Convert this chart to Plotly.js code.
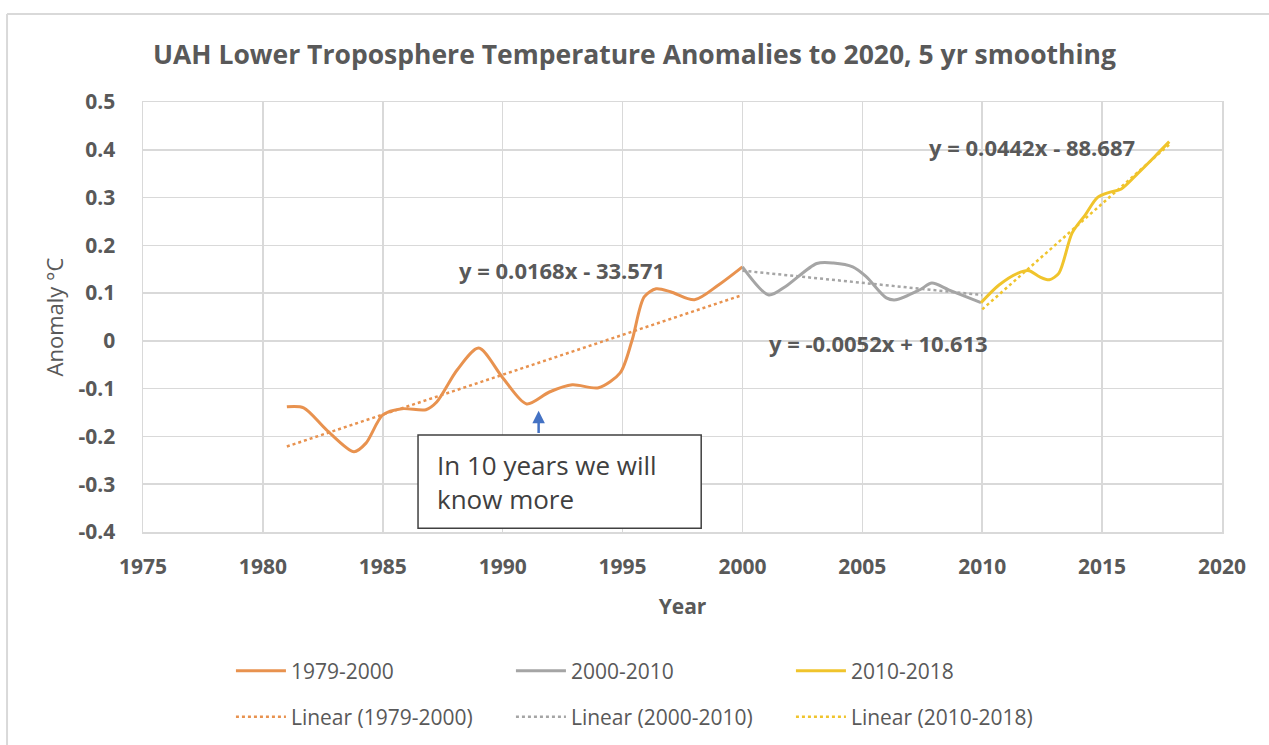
<!DOCTYPE html>
<html>
<head>
<meta charset="utf-8">
<script src="https://cdn.plot.ly/plotly-3.0.1.min.js"></script>
<style>
html,body{margin:0;padding:0;background:#fff;}
#chart{width:1269px;height:745px;}
</style>
</head>
<body>
<div id="chart"></div>
<script>
// ---- data ----
const yearsA = [1981.0, 1981.7, 1982.65, 1983.8, 1984.3, 1985.0, 1985.8, 1986.8, 1987.25, 1988.1, 1989.0, 1990.0, 1991.0, 1991.95, 1992.9, 1994.0, 1994.9, 1995.4, 1995.9, 1996.4, 1997.0, 1998.0, 1999.0, 2000.0];
const anomA  = [-0.138, -0.140, -0.186, -0.232, -0.214, -0.155, -0.142, -0.144, -0.128, -0.061, -0.015, -0.077, -0.132, -0.107, -0.092, -0.098, -0.067, 0.002, 0.092, 0.109, 0.103, 0.086, 0.117, 0.155];

const yearsB = [2000.0, 2001.1, 2001.8, 2003.1, 2003.8, 2004.6, 2005.15, 2006.0, 2006.4, 2007.4, 2007.9, 2008.6, 2009.95];
const anomB  = [0.155, 0.096, 0.114, 0.162, 0.163, 0.155, 0.135, 0.090, 0.086, 0.107, 0.121, 0.107, 0.080];

const yearsC = [2009.95, 2010.7, 2011.5, 2011.95, 2012.4, 2012.8, 2013.2, 2013.75, 2014.3, 2014.8, 2015.3, 2015.8, 2016.5, 2017.2, 2017.8];
const anomC  = [0.080, 0.117, 0.142, 0.147, 0.134, 0.128, 0.142, 0.226, 0.264, 0.300, 0.311, 0.318, 0.351, 0.386, 0.417];

// trend line end points (as drawn)
const trendAx = [1981.0, 2000.0], trendAy = [-0.221, 0.096];
const trendBx = [2000.0, 2010.0], trendBy = [0.147, 0.096];
const trendCx = [2010.0, 2017.8], trendCy = [0.066, 0.411];

const seriesNames = ["1979-2000", "2000-2010", "2010-2018"];
const trendNames = ["Linear (1979-2000)", "Linear (2000-2010)", "Linear (2010-2018)"];
const equations = ["y = 0.0168x - 33.571", "y = -0.0052x + 10.613", "y = 0.0442x - 88.687"];

const xTickVals = [1975, 1980, 1985, 1990, 1995, 2000, 2005, 2010, 2015, 2020];
const xTickText = ["1975", "1980", "1985", "1990", "1995", "2000", "2005", "2010", "2015", "2020"];
const yTickVals = [0.5, 0.4, 0.3, 0.2, 0.1, 0, -0.1, -0.2, -0.3, -0.4];
const yTickText = ["0.5", "0.4", "0.3", "0.2", "0.1", "0", "-0.1", "-0.2", "-0.3", "-0.4"];

const titleText = "UAH Lower Troposphere Temperature Anomalies to 2020, 5 yr smoothing";
const noteText = "In 10 years we will<br>know more";

// ---- styling ----
const cOrange = "#E8924F", cGray = "#A5A5A5", cGold = "#F0C42C";
const txt = "#595959";
const FONT = "Open Sans, Liberation Sans, sans-serif";

const traces = [
  {x: yearsA, y: anomA, name: seriesNames[0], mode: "lines", line: {color: cOrange, width: 3, shape: "spline", smoothing: 0.8}, legend: "legend"},
  {x: yearsB, y: anomB, name: seriesNames[1], mode: "lines", line: {color: cGray, width: 3, shape: "spline", smoothing: 0.8}, legend: "legend"},
  {x: yearsC, y: anomC, name: seriesNames[2], mode: "lines", line: {color: cGold, width: 3, shape: "spline", smoothing: 0.8}, legend: "legend"},
  {x: trendAx, y: trendAy, name: trendNames[0], mode: "lines", line: {color: cOrange, width: 2.5, dash: "dot"}, legend: "legend2"},
  {x: trendBx, y: trendBy, name: trendNames[1], mode: "lines", line: {color: cGray, width: 2.5, dash: "dot"}, legend: "legend2"},
  {x: trendCx, y: trendCy, name: trendNames[2], mode: "lines", line: {color: cGold, width: 2.5, dash: "dot"}, legend: "legend2"}
];

const legFont = {family: FONT, size: 21, color: txt};
const eqFont = {family: FONT, size: 22, color: txt};
const layout = {
  width: 1269, height: 745,
  paper_bgcolor: "#fff", plot_bgcolor: "#fff",
  margin: {l: 143, r: 47, t: 102, b: 213},
  font: {family: FONT, color: txt},
  showlegend: true,
  title: {text: "<b>" + titleText + "</b>", font: {family: FONT, size: 26.5, color: txt}, x: 0.5, xanchor: "center", xref: "container", y: 0.926, yanchor: "middle", yref: "container"},
  xaxis: {
    range: [1975, 2020], tickvals: xTickVals, ticktext: xTickText,
    showgrid: true, gridcolor: "#D9D9D9", gridwidth: 1.5,
    showline: true, linecolor: "#D9D9D9", linewidth: 1.5, mirror: true,
    zeroline: false, ticks: "", ticklabelstandoff: 15,
    tickfont: {family: FONT, size: 21, color: txt, weight: "bold"},
    title: {text: "<b>Year</b>", font: {family: FONT, size: 21, color: txt}, standoff: 20},
    fixedrange: true, automargin: false
  },
  yaxis: {
    range: [-0.4, 0.5], tickvals: yTickVals, ticktext: yTickText,
    showgrid: true, gridcolor: "#D9D9D9", gridwidth: 1.5,
    showline: true, linecolor: "#D9D9D9", linewidth: 1.5, mirror: true,
    zeroline: false, ticks: "", ticklabelstandoff: 22,
    tickfont: {family: FONT, size: 21, color: txt, weight: "bold"},
    title: {text: "Anomaly °C", font: {family: FONT, size: 22, color: txt}, standoff: 9},
    fixedrange: true, automargin: false
  },
  legend: {
    orientation: "h", x: 0.0815, xanchor: "left", y: 0.0993, yref: "container", yanchor: "middle", itemwidth: 50,
    entrywidth: 215, entrywidthmode: "pixels", font: legFont, bgcolor: "rgba(0,0,0,0)", traceorder: "normal"
  },
  legend2: {
    orientation: "h", x: 0.0815, xanchor: "left", y: 0.0376, yref: "container", yanchor: "middle", itemwidth: 50,
    entrywidth: 215, entrywidthmode: "pixels", font: legFont, bgcolor: "rgba(0,0,0,0)", traceorder: "normal"
  },
  annotations: [
    {x: 1992.48, y: 0.1485, xref: "x", yref: "y", text: "<b>" + equations[0] + "</b>", showarrow: false, xanchor: "center", yanchor: "middle", font: eqFont},
    {x: 2005.69, y: -0.004, xref: "x", yref: "y", text: "<b>" + equations[1] + "</b>", showarrow: false, xanchor: "center", yanchor: "middle", font: eqFont},
    {x: 2012.08, y: 0.406, xref: "x", yref: "y", text: "<b>" + equations[2] + "</b>", showarrow: false, xanchor: "center", yanchor: "middle", font: eqFont},
    {x: 1986.47, y: -0.295, xref: "x", yref: "y", text: noteText, showarrow: false, xanchor: "left", yanchor: "middle", align: "left",
     xshift: 17, font: {family: FONT, size: 26, color: "#404040"}},
    {x: 1991.5, y: -0.146, xref: "x", yref: "y", ax: 1991.5, ay: -0.196, axref: "x", ayref: "y", text: "", showarrow: true,
     arrowcolor: "#4472C4", arrowhead: 2, arrowsize: 1, arrowwidth: 2.5}
  ],
  shapes: [
    {type: "rect", xref: "x", yref: "y", x0: 1986.47, x1: 1998.28, y0: -0.197, y1: -0.392, line: {color: "#404040", width: 1.5}, fillcolor: "#fff", layer: "above"},
    {type: "line", xref: "paper", yref: "paper", x0: -0.126, x1: -0.126, y0: 1.2047, y1: -0.6, line: {color: "#D9D9D9", width: 2}},
    {type: "line", xref: "paper", yref: "paper", x0: -0.126, x1: 1.05, y0: 1.2047, y1: 1.2047, line: {color: "#D9D9D9", width: 2}}
  ]
};

Plotly.newPlot("chart", traces, layout, {displayModeBar: false, staticPlot: true});
</script>
</body>
</html>
